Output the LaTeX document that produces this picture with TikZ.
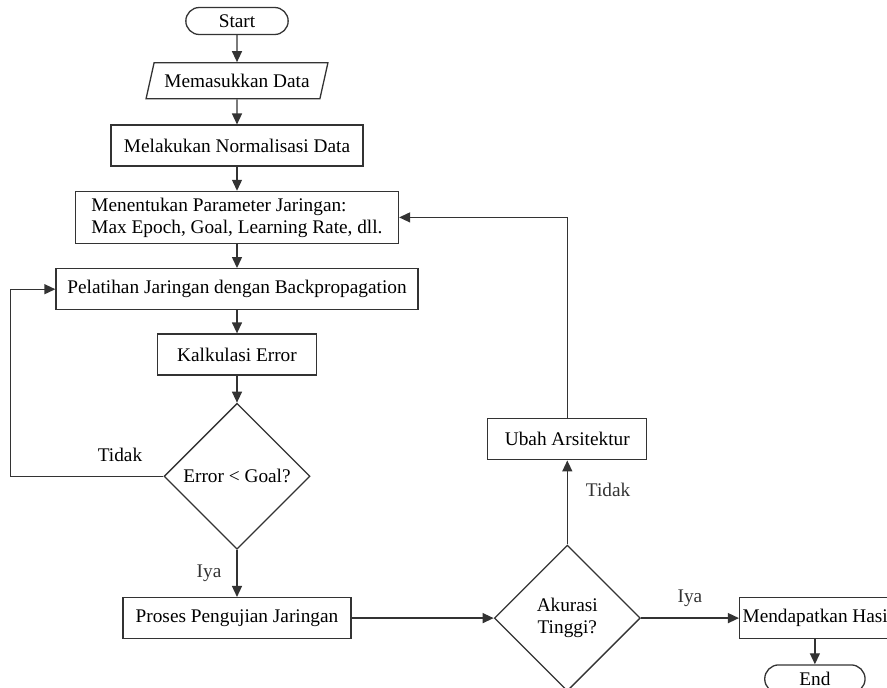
\documentclass[tikz,border=0pt]{standalone}
\usepackage{fontspec}
\setmainfont{Liberation Serif}
\usetikzlibrary{shapes.geometric, shapes.misc, arrows.meta, positioning}
\definecolor{garis}{HTML}{333333}

\begin{document}
\begin{tikzpicture}[
    x=1pt, y=-1pt,
    every node/.style={font=\fontsize{19.3}{22}\selectfont},
    proses/.style={rectangle, draw=garis, line width=1.3pt, minimum height=41pt, align=center, inner xsep=6pt},
    terminal/.style={rounded rectangle, draw=garis, line width=1.3pt, minimum height=27pt},
    data/.style={trapezium, trapezium left angle=70, trapezium right angle=110, trapezium stretches=true,
                 draw=garis, line width=1.3pt, minimum width=182pt, minimum height=36pt},
    cabang/.style={diamond, draw=garis, line width=1.3pt, minimum width=146pt, minimum height=146pt, aspect=1, align=center, inner sep=0pt},
    lbl/.style={inner sep=0pt},
    arr/.style={-{Triangle[length=11pt, width=10pt]}, line width=1.3pt, garis}
]
    \useasboundingbox (0,0) rectangle (887,688);
    \clip (0,0) rectangle (887,688);
    % kolom kiri
    \node[terminal, minimum width=109pt] (start) at (237,21) {Start};
    \node[data, below=27pt of start] (input) {Memasukkan Data};
    \node[proses, below=25pt of input, minimum width=252pt] (norm) {Melakukan Normalisasi Data};
    \node[proses, below=24pt of norm, minimum width=323pt, minimum height=52pt, align=left] (param) {Menentukan Parameter Jaringan:\\Max Epoch, Goal, Learning Rate, dll.};
    \node[proses, below=24pt of param, minimum width=362pt] (latih) {Pelatihan Jaringan dengan Backpropagation};
    \node[proses, below=23pt of latih, minimum width=159pt] (kalk) {Kalkulasi Error};
    \node[cabang, below=27pt of kalk] (cek) {Error < Goal?};
    \node[proses, below=47pt of cek, minimum width=228pt] (uji) {Proses Pengujian Jaringan};
    % kolom kanan
    \node[cabang, right=142pt of uji] (akurasi) {Akurasi\\Tinggi?};
    \node[proses, above=84pt of akurasi, minimum width=159pt] (ubah) {Ubah Arsitektur};
    \node[proses, right=98pt of akurasi, inner xsep=3pt] (hasil) {Mendapatkan Hasil};
    \node[terminal, below=25pt of hasil, xshift=-3pt, minimum width=107pt, minimum height=28pt] (end) {End};
    % panah
    \draw[arr] (start) -- (input);
    \draw[arr] (input) -- (norm);
    \draw[arr] (norm) -- (param);
    \draw[arr] (param) -- (latih);
    \draw[arr] (latih) -- (kalk);
    \draw[arr] (kalk) -- (cek);
    \draw[arr] (cek) -- node[lbl, left=15pt] (iya1) {Iya} (uji);
    \draw[arr] (uji) -- (akurasi);
    \draw[arr] (akurasi) -- node[lbl, above=11pt] (iya2) {Iya} (hasil);
    \draw[arr] (akurasi) -- node[lbl, right=18pt, pos=0.65] (tidak2) {Tidak} (ubah);
    \draw[arr] (ubah.north) |- (param.east);
    \draw[arr] (cek.west) -| ([xshift=-45pt]latih.west) -- (latih.west);
    \node[lbl, above left=14pt and 21pt of cek.west] (tidak1) {Tidak};
    \draw[arr] (hasil.south -| end.north) -- (end.north);
\end{tikzpicture}
\end{document}
